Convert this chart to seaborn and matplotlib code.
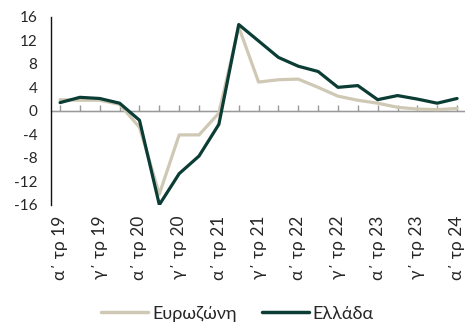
import matplotlib
matplotlib.use("Agg")
import matplotlib.pyplot as plt
import seaborn as sns
import pandas as pd
import numpy as np

# Quarterly GDP growth, % y/y, Q1 2019 - Q1 2024
quarters = [
    "α΄ τρ 19", "β΄ τρ 19", "γ΄ τρ 19", "δ΄ τρ 19",
    "α΄ τρ 20", "β΄ τρ 20", "γ΄ τρ 20", "δ΄ τρ 20",
    "α΄ τρ 21", "β΄ τρ 21", "γ΄ τρ 21", "δ΄ τρ 21",
    "α΄ τρ 22", "β΄ τρ 22", "γ΄ τρ 22", "δ΄ τρ 22",
    "α΄ τρ 23", "β΄ τρ 23", "γ΄ τρ 23", "δ΄ τρ 23",
    "α΄ τρ 24",
]
eurozone = [1.9, 1.8, 1.8, 1.1, -2.8, -14.2, -4.1, -4.1, -0.4, 14.3,
            4.9, 5.3, 5.4, 4.0, 2.5, 1.8, 1.3, 0.6, 0.3, 0.2, 0.4]
greece = [1.4, 2.3, 2.1, 1.3, -1.6, -16.0, -10.7, -7.7, -2.3, 14.7,
          11.9, 9.1, 7.6, 6.7, 4.0, 4.3, 1.9, 2.6, 2.0, 1.3, 2.1]
series_names = ["Ευρωζώνη", "Ελλάδα"]
colors = ["#cfc8b5", "#0b3d35"]
yticks = [16, 12, 8, 4, 0, -4, -8, -12, -16]

sns.set_style("white")
plt.rcParams["font.family"] = ["Lato", "DejaVu Sans"]

df = pd.DataFrame({
    "q": np.arange(len(quarters)).tolist() * 2,
    "value": eurozone + greece,
    "series": [series_names[0]] * len(quarters) + [series_names[1]] * len(quarters),
})

fig = plt.figure(figsize=(4.65, 3.25), dpi=100)
ax = fig.add_axes([0.11, 0.37, 0.89, 0.578])

ax.axhline(0, color="#9a9a9a", lw=1.0, zorder=1)

sns.lineplot(data=df, x="q", y="value", hue="series", hue_order=series_names,
             palette=colors, linewidth=2.3, ax=ax, legend=True, zorder=3)

ax.set_ylim(-16, 16)
ax.set_xlim(-0.45, 20.4)
ax.set_yticks(yticks)
ax.set_yticklabels([str(v) for v in yticks], fontsize=11)

idx = list(range(0, len(quarters), 2))
ax.set_xticks(idx)
ax.set_xticklabels([quarters[i] for i in idx], rotation=90, fontsize=12.5)
ax.tick_params(axis="x", length=0, pad=8)
ax.tick_params(axis="y", length=0, pad=10)
ax.set_xlabel("")
ax.set_ylabel("")

for s in ["top", "right", "bottom"]:
    ax.spines[s].set_visible(False)
ax.spines["left"].set_color("#111111")
ax.spines["left"].set_linewidth(1.0)

# quarter ticks sitting on the zero line
zero_axis = ax.secondary_xaxis(0.5)
zero_axis.set_xticks(range(len(quarters)))
zero_axis.set_xticklabels([])
zero_axis.tick_params(axis="x", length=4, width=1, color="#9a9a9a", direction="out")
zero_axis.spines["bottom"].set_visible(False)

leg = ax.legend(loc="center", bbox_to_anchor=(0.45, -0.58), ncol=2,
                frameon=False, fontsize=13, handlelength=2.6, handletextpad=0.2,
                columnspacing=1.4)
for line in leg.get_lines():
    line.set_linewidth(2.5)

fig.savefig("out.png", dpi=100)
